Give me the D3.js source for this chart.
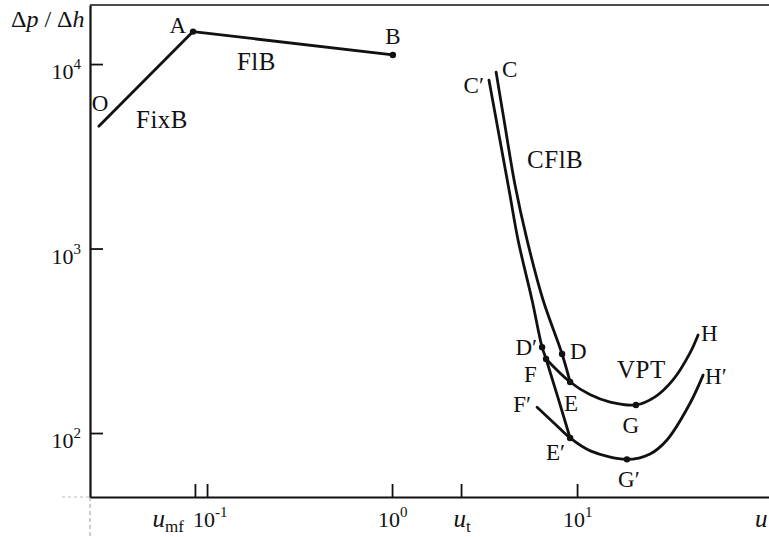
<!DOCTYPE html>
<html>
<head>
<meta charset="utf-8">
<script src="https://cdn.jsdelivr.net/npm/d3@7"></script>
<style>
  body { margin: 0; background: #fff; }
  text { font-family: "Liberation Serif", "Times New Roman", serif; fill: #111; }
</style>
</head>
<body>
<svg id="chart" width="769" height="537"></svg>
<script>
// values (u on x, dp/dh on y, both log)
var fixedBed  = [[0.026, 4600], [0.084, 15000]];
var fluidBed  = [[0.084, 15000], [1.01, 11200]];
var lineC     = [[3.65, 9050], [4.03, 4970], [4.62, 2210], [5.37, 1110], [6.55, 526], [8.30, 268], [9.17, 189]];
var lineC2    = [[3.34, 8190], [4.29, 2075], [4.80, 1110], [5.71, 526], [6.47, 292], [6.80, 252], [9.17, 94]];
var vptUpper  = [[6.80, 252], [9.17, 189], [11.8, 161], [15.1, 147], [20.8, 142], [26.4, 157], [33.0, 194], [40.8, 272], [45.1, 340]];
var vptLower  = [[6.08, 138], [7.60, 112], [9.17, 94], [11.8, 80], [18.6, 72], [24.8, 77], [30.7, 92], [40.8, 145], [48.0, 206]];

var pointNames = ['O', 'A', 'B', 'C', 'C′', 'D', 'D′', 'F', 'E', 'E′', 'F′', 'G', 'G′', 'H', 'H′'];
var pointU     = [0.026, 0.084, 1.01, 3.65, 3.34, 8.30, 6.47, 6.80, 9.17, 9.17, 6.08, 20.8, 18.6, 45.1, 48.0];
var pointDp    = [4600, 15000, 11200, 9050, 8190, 268, 292, 252, 189, 94, 138, 142, 72, 340, 206];
var dotted     = ['A', 'B', 'D', 'D′', 'F', 'E', 'E′', 'G', 'G′'];

var regionNames = ['FixB', 'FlB', 'CFlB', 'VPT'];
var regionU     = [0.0413, 0.145, 5.37, 16.45];
var regionDp    = [4500, 9280, 2730, 199];

var yTicks  = [100, 1000, 10000];
var yLabels = ['2', '3', '4'];
var xTicks  = [0.1, 1, 10];
var xLabels = ['-1', '0', '1'];
var U_MF = 0.086, U_T = 2.36;

(function () {
    'use strict';
    var svg = d3.select('#chart');
    var LEFT = 90, RIGHT = 769, TOP = 5, BOTTOM = 497;

    var x = d3.scaleLog().domain([0.0233, 109]).range([LEFT, RIGHT]);
    var y = d3.scaleLog().domain([45, 20900]).range([BOTTOM, TOP]);

    // faint scan leftovers beyond the axes
    svg.append('line').attr('x1', 62).attr('x2', LEFT).attr('y1', BOTTOM).attr('y2', BOTTOM)
        .attr('stroke', '#bbb').attr('stroke-dasharray', '3,3');
    svg.append('line').attr('x1', LEFT).attr('x2', LEFT).attr('y1', BOTTOM).attr('y2', 537)
        .attr('stroke', '#999').attr('stroke-dasharray', '4,3');

    // top frame line
    svg.append('line').attr('x1', LEFT).attr('x2', RIGHT).attr('y1', TOP).attr('y2', TOP)
        .attr('stroke', '#111').attr('stroke-width', 1.6);

    var gx = svg.append('g').attr('transform', 'translate(0,' + BOTTOM + ')')
        .call(d3.axisBottom(x).tickValues([U_MF].concat(xTicks).concat([U_T]))
            .tickSizeInner(-13).tickSizeOuter(0).tickFormat(''));
    var gy = svg.append('g').attr('transform', 'translate(' + LEFT + ',0)')
        .call(d3.axisLeft(y).tickValues(yTicks).tickSizeInner(-13).tickSizeOuter(0).tickFormat(''));
    [gx, gy].forEach(function (g) {
        g.select('.domain').attr('stroke', '#111').attr('stroke-width', 2.2);
        g.selectAll('.tick line').attr('stroke', '#111').attr('stroke-width', 1.8);
    });

    // y tick labels 10^n
    yTicks.forEach(function (v, i) {
        var t = svg.append('text').attr('x', LEFT - 9).attr('y', y(v) + 15)
            .attr('text-anchor', 'end').attr('font-size', 22);
        t.append('tspan').text('10');
        t.append('tspan').attr('dy', -10).attr('font-size', 15).text(yLabels[i]);
    });

    // x tick labels
    xTicks.forEach(function (v, i) {
        var t = svg.append('text').attr('x', x(v) - 14).attr('y', 527).attr('font-size', 22);
        t.append('tspan').text('10');
        t.append('tspan').attr('dy', -10).attr('font-size', 15).text(xLabels[i]);
    });

    function subLabel(xpos, anchor, main, sub) {
        var t = svg.append('text').attr('x', xpos).attr('y', 527)
            .attr('text-anchor', anchor).attr('font-size', 25);
        t.append('tspan').attr('font-style', 'italic').text(main);
        if (sub) t.append('tspan').attr('dy', 5).attr('font-size', 17).text(sub);
    }
    subLabel(x(U_MF) - 11, 'end', 'u', 'mf');
    subLabel(x(U_T) + 1, 'middle', 'u', 't');
    subLabel(755, 'start', 'u', null);

    // y title
    var yt = svg.append('text').attr('x', 11).attr('y', 27).attr('font-size', 24);
    yt.append('tspan').text('Δ');
    yt.append('tspan').attr('font-style', 'italic').text('p');
    yt.append('tspan').text(' / Δ');
    yt.append('tspan').attr('font-style', 'italic').text('h');

    // curves
    var straight = d3.line().x(function (d) { return x(d[0]); }).y(function (d) { return y(d[1]); });
    var smooth = d3.line().x(function (d) { return x(d[0]); }).y(function (d) { return y(d[1]); })
        .curve(d3.curveCatmullRom.alpha(0.5));

    [[fixedBed, straight], [fluidBed, straight], [lineC, smooth], [lineC2, smooth],
     [vptUpper, smooth], [vptLower, smooth]].forEach(function (c) {
        svg.append('path').datum(c[0]).attr('d', c[1])
            .attr('fill', 'none').attr('stroke', '#111').attr('stroke-width', 2.8)
            .attr('stroke-linecap', 'round');
    });

    var points = pointNames.map(function (n, i) { return {name: n, u: pointU[i], dp: pointDp[i]}; });

    svg.selectAll('circle.pt').data(points.filter(function (p) { return dotted.indexOf(p.name) >= 0; }))
        .enter().append('circle').attr('class', 'pt')
        .attr('cx', function (d) { return x(d.u); })
        .attr('cy', function (d) { return y(d.dp); })
        .attr('r', 3.2).attr('fill', '#111');

    // label placement relative to each point: dx, dy, anchor
    var labelOffset = {
        'O': [-7, -15, 'start'], 'A': [-7, 1, 'end'], 'B': [0, -11, 'middle'],
        'C': [6, 5, 'start'], 'C′': [-5, 13, 'end'], 'D': [8, 5, 'start'],
        'D′': [-5, 8, 'end'], 'F': [-22, 23, 'start'], 'E': [-6, 29, 'start'],
        'E′': [-5, 22, 'end'], 'F′': [-6, 5, 'end'], 'G': [-5, 28, 'middle'],
        'G′': [2, 28, 'middle'], 'H': [3, 6, 'start'], 'H′': [2, 9, 'start']
    };
    points.forEach(function (p) {
        var o = labelOffset[p.name];
        svg.append('text').attr('x', x(p.u) + o[0]).attr('y', y(p.dp) + o[1])
            .attr('text-anchor', o[2]).attr('font-size', 23).text(p.name);
    });

    regionNames.forEach(function (n, i) {
        svg.append('text').attr('x', x(regionU[i])).attr('y', y(regionDp[i]))
            .attr('font-size', 25).attr('letter-spacing', 0.5).text(n);
    });
})();
</script>
</body>
</html>
